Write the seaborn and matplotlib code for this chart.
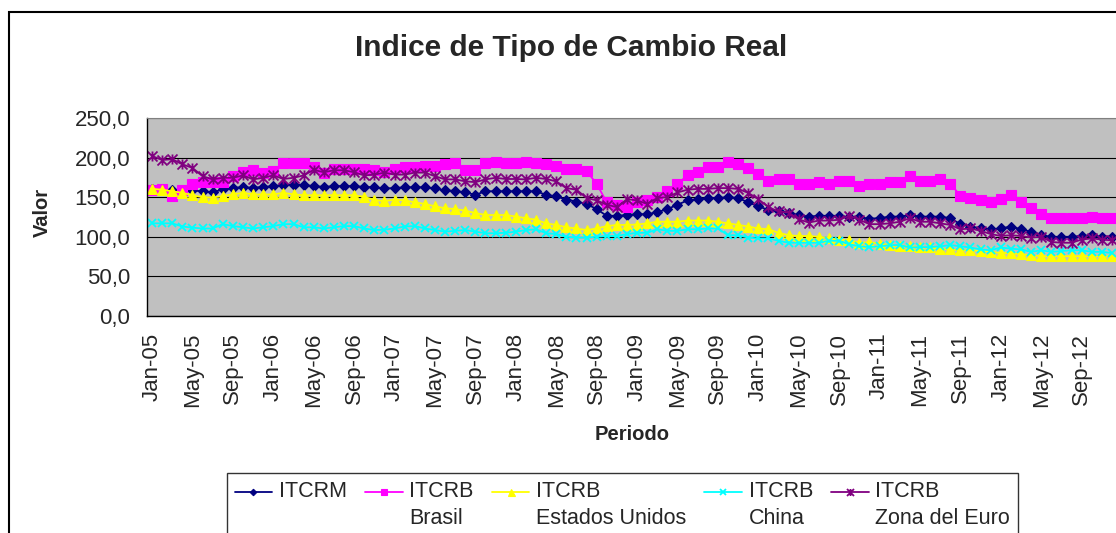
import numpy as np
import pandas as pd
import matplotlib
matplotlib.use("Agg")
import matplotlib.pyplot as plt
import matplotlib.patches as patches
from matplotlib.path import Path
import seaborn as sns

# Meses de enero 2005 a diciembre 2012
periodos = pd.date_range("2005-01-01", periods=96, freq="MS").strftime("%b-%y").tolist()

itcrm = [160, 159.5, 159, 157.5, 158.5, 157.5, 156, 160, 162, 162.5, 162, 163,
         164, 165.5, 166, 165.5, 164, 163, 164, 164, 164, 163, 162.5, 161,
         161.5, 162.5, 162.5, 162.5, 161, 158.5, 158, 156, 153, 157.5, 157.5, 157.5,
         157.5, 157.5, 157.5, 153, 151, 147, 144.5, 141.5, 135, 126.5, 126.5, 127.5,
         128.5, 128.5, 131, 135, 140.5, 146, 147.5, 149, 149, 150, 149, 143.5,
         138.5, 134, 132, 130.5, 127.5, 125.5, 126.5, 126.5, 126.5, 124.5, 124.5, 123,
         123.5, 125.5, 125.5, 127.5, 125.5, 125.5, 125.5, 123.5, 116, 113, 110.5, 109.5,
         110.5, 113, 109.5, 106.5, 102, 100, 100, 100, 101, 102, 100, 100]

brasil = [159.5, 160.5, 151, 159.5, 167, 169, 169, 169, 176.5, 181.5, 184.5, 181,
          183, 193, 193, 193, 188.5, 181, 186, 186, 186, 185, 184, 182,
          185, 188, 188, 189.5, 189.5, 192.5, 193, 184, 184, 193, 194.5, 193,
          193, 194.5, 193, 191.5, 189.5, 186, 186, 183, 167, 143.5, 140.5, 137.5,
          143.5, 146, 150, 157.5, 167, 177.5, 181.5, 188.5, 188.5, 194.5, 192.5, 186.5,
          179.5, 171, 172.5, 172.5, 167, 167, 169.5, 167, 171, 171, 164.5, 167,
          167, 169, 169, 176.5, 171, 171, 173, 167, 152, 149, 147, 143.5,
          147.5, 153, 143.5, 136, 129, 123.5, 123.5, 123.5, 123.5, 125.5, 123.5, 123.5]

eeuu = [160.5, 159.5, 157.5, 155.5, 152.5, 150, 149.5, 151.5, 153.5, 155.5, 153.5, 153.5,
        153.5, 155.5, 153.5, 152.5, 152.5, 152.5, 152.5, 152.5, 152.5, 150.5, 146.5, 145,
        147, 146, 143.5, 141.5, 138.5, 136, 135, 133, 130, 127.5, 127.5, 127.5,
        125.5, 123.5, 121.5, 117, 115, 112, 110.5, 108.5, 110.5, 113.5, 115, 115,
        115.5, 117, 119, 119, 119, 120.5, 120.5, 120.5, 119, 117, 115, 113,
        110.5, 109.5, 105, 102, 101, 101, 100, 98, 96.5, 95.5, 92.5, 93,
        91.5, 89.5, 88, 88, 87, 86.5, 85, 84, 83, 83, 82, 81,
        79.5, 79.5, 78, 76.5, 75.5, 75.5, 75.5, 75.5, 75.5, 75.5, 75.5, 75.5]

china = [117, 117, 117, 113, 111.5, 110.5, 110.5, 116, 113.5, 112, 110.5, 112,
         113.5, 116, 116, 112, 112, 110.5, 112, 113.5, 113.5, 110.5, 108.5, 109,
         110.5, 113, 113.5, 110.5, 108.5, 106.5, 107.5, 108.5, 106.5, 104.5, 104.5, 105,
         106.5, 108.5, 109.5, 104.5, 103.5, 100, 99, 99, 100, 101, 101, 103.5,
         105, 105, 109.5, 107.5, 107.5, 109.5, 109.5, 110.5, 110.5, 102, 102, 99,
         98, 98, 95, 92.5, 92.5, 92.5, 92.5, 95, 95, 90.5, 88, 87,
         88, 89.5, 89.5, 86.5, 87, 87, 88, 89.5, 88, 86.5, 84, 83,
         86.5, 85, 84, 81, 83, 81, 82, 83, 83, 81, 81, 79.5]

euro = [202, 197, 198, 191.5, 187, 176.5, 172.5, 174.5, 174.5, 177.5, 172.5, 174.5,
        177.5, 173, 174.5, 177.5, 184.5, 181.5, 184, 184, 181.5, 177.5, 178.5, 181,
        178.5, 178.5, 181, 181, 176.5, 172.5, 172.5, 170, 169, 172.5, 174.5, 173,
        173, 172.5, 174.5, 173, 170, 161.5, 159.5, 149, 146, 140.5, 137.5, 147.5,
        146, 141.5, 149, 150, 156, 159.5, 160.5, 160.5, 161.5, 161.5, 160.5, 155.5,
        147.5, 137.5, 132, 130.5, 122, 118, 120.5, 120.5, 121.5, 126.5, 121.5, 116,
        116, 117, 119, 123.5, 119, 119, 117, 115, 109.5, 110.5, 107.5, 103.5,
        101, 102, 101, 99, 100, 93.5, 92.5, 92.5, 96.5, 98, 96.5, 95.5]

etiquetas = ["ITCRM\n ", "ITCRB\nBrasil", "ITCRB\nEstados Unidos", "ITCRB\nChina", "ITCRB\nZona del Euro"]

# estrella estilo Excel: una x con una barra vertical
estrella = Path([(-1, -1), (1, 1), (-1, 1), (1, -1), (0, -1), (0, 1)],
                [Path.MOVETO, Path.LINETO, Path.MOVETO, Path.LINETO, Path.MOVETO, Path.LINETO])

estilos = [
    dict(color="#000080", marker="D", markersize=4.7, markerfacecolor="#000080", markeredgewidth=0.8),
    dict(color="#FF00FF", marker="s", markersize=6.7, markerfacecolor="#FF00FF", markeredgewidth=0.8),
    dict(color="#FFFF00", marker="^", markersize=7.2, markerfacecolor="#FFFF00", markeredgewidth=0.8),
    dict(color="#00FFFF", marker="x", markersize=6.2, markerfacecolor="none", markeredgewidth=1.3),
    dict(color="#800080", marker=estrella, markersize=7.2, markerfacecolor="none", markeredgewidth=1.3),
]

sns.set_style("white")
plt.rcParams["font.family"] = ["Liberation Sans", "DejaVu Sans"]

fig = plt.figure(figsize=(11.16, 5.33), dpi=100)
ax = fig.add_axes([147 / 1116, 1 - 316 / 533, 970 / 1116, 198 / 533])
ax.set_facecolor("#C0C0C0")

x = np.arange(len(periodos))
for serie, est in zip([itcrm, brasil, eeuu, china, euro], estilos):
    assert len(serie) == len(periodos)
    sns.lineplot(x=x, y=serie, ax=ax, color=est["color"], marker=est["marker"],
                 markersize=est["markersize"], markerfacecolor=est["markerfacecolor"],
                 markeredgecolor=est["color"], markeredgewidth=est["markeredgewidth"],
                 linewidth=1.3, estimator=None, errorbar=None, legend=False)

ax.set_xlim(-0.5, len(periodos) - 0.5)
ax.set_ylim(0, 250)
ax.set_xticks(x[::4])
ax.set_xticklabels(periodos[::4], rotation=90, fontsize=16)
ax.set_xticks(np.arange(-0.5, len(periodos), 4), minor=True)
ax.tick_params(axis="x", which="major", length=0, pad=12)
ax.tick_params(axis="x", which="minor", length=5, width=1, direction="out", color="black")
ax.set_yticks(range(0, 251, 50))
ax.set_yticklabels([f"{v:.1f}".replace(".", ",") for v in range(0, 251, 50)], fontsize=16)
ax.tick_params(axis="y", length=5, width=1, direction="out", color="black", pad=7)
ax.yaxis.grid(True, color="black", linewidth=0.8)
ax.set_axisbelow(True)
ax.set_xlabel("")
ax.set_ylabel("")

for s in ["left", "bottom"]:
    ax.spines[s].set_color("black")
    ax.spines[s].set_linewidth(1)
ax.spines["top"].set_color("#808080")
ax.spines["right"].set_visible(False)

fig.text(571 / 1116, 1 - 48 / 533, "Indice de Tipo de Cambio Real", ha="center", va="center",
         fontsize=21.5, fontweight="bold")
fig.text(42 / 1116, 1 - 212 / 533, "Valor", ha="center", va="center", rotation=90,
         fontsize=14.5, fontweight="bold")
fig.text(632 / 1116, 1 - 434 / 533, "Periodo", ha="center", va="center",
         fontsize=14.5, fontweight="bold")

leg = fig.legend(ax.lines[:5], etiquetas, loc="upper left",
                 bbox_to_anchor=(227 / 1116, 1 - 473 / 533), ncol=5, frameon=True,
                 fancybox=False, edgecolor="black", fontsize=15.5, handlelength=1.75,
                 handletextpad=0.3, columnspacing=0.85, borderpad=0.35, borderaxespad=0,
                 markerscale=0.7)
leg.get_frame().set_linewidth(1.0)
for t in leg.get_texts():
    t.set_linespacing(1.38)
# llevar los simbolos a la primera linea del texto
for h in leg.legend_handles:
    h.set_ydata(np.asarray(h.get_ydata()) + 9.5)

# marco del grafico
fig.patches.append(patches.Rectangle((9 / 1116, -0.1), 1.2, 1.1 - 12 / 533, fill=False,
                                     edgecolor="black", linewidth=1.5,
                                     transform=fig.transFigure, figure=fig))

fig.savefig("out.png", dpi=100)
